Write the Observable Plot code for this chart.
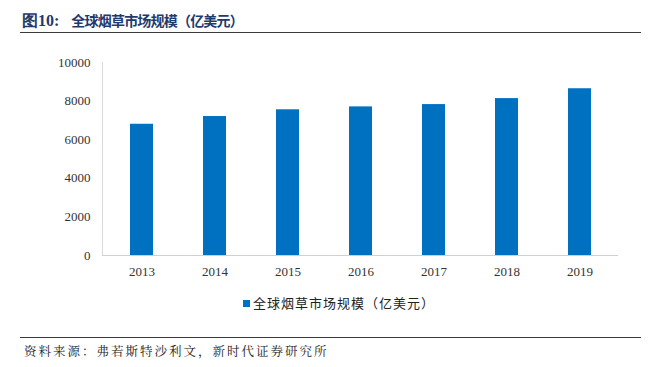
<!DOCTYPE html>
<html>
<head>
<meta charset="utf-8">
<script src="https://cdn.jsdelivr.net/npm/d3@7"></script>
<script src="https://cdn.jsdelivr.net/npm/@observablehq/plot@0.6"></script>
<style>
  html, body { margin: 0; padding: 0; background: #fff; }
  #wrap { position: relative; width: 653px; height: 367px; overflow: hidden; }
  #title { position: absolute; left: 22px; top: 10px; font-family: "Noto Sans CJK SC", sans-serif; font-weight: bold; font-size: 14px; color: #1f3a6e; white-space: nowrap; letter-spacing: -0.8px; }
  #title .num { font-family: "Liberation Serif", serif; font-size: 16px; margin-right: 12px; letter-spacing: 0; }
  #rule1 { position: absolute; left: 20px; top: 32px; width: 621px; height: 0; border-top: 1.5px solid #3a3a3a; }
  #chart { position: absolute; left: 0; top: 0; }
  #legend { position: absolute; left: 243px; top: 293px; font-family: "Noto Sans CJK SC", sans-serif; font-size: 13px; color: #222; white-space: nowrap; letter-spacing: 1px; }
  #legend .sw { display: inline-block; width: 7px; height: 7px; background: #0070c0; margin-right: 3px; vertical-align: 1px; }
  #rule2 { position: absolute; left: 20px; top: 337px; width: 621px; height: 0; border-top: 1px solid #3a3a3a; }
  #source { position: absolute; left: 24px; top: 342px; font-family: "Noto Serif CJK SC", "Noto Sans CJK SC", serif; font-size: 12.5px; color: #222; white-space: nowrap; letter-spacing: 2px; }
</style>
</head>
<body>
<div id="wrap">
  <div id="title"><span class="num">图10:</span>全球烟草市场规模（亿美元）</div>
  <div id="rule1"></div>
  <div id="chart"></div>
  <div id="legend"><span class="sw"></span>全球烟草市场规模（亿美元）</div>
  <div id="rule2"></div>
  <div id="source">资料来源：弗若斯特沙利文，新时代证券研究所</div>
</div>
<script>
const years = ["2013", "2014", "2015", "2016", "2017", "2018", "2019"];
const marketSize = [6800, 7200, 7550, 7700, 7820, 8130, 8640];
const yTicks = [0, 2000, 4000, 6000, 8000, 10000];
const seriesName = "全球烟草市场规模（亿美元）";

const data = years.map((y, i) => ({year: y, value: marketSize[i]}));

const chart = Plot.plot({
  width: 653,
  height: 290,
  marginTop: 62,
  marginBottom: 35,
  marginLeft: 102,
  marginRight: 35,
  style: {fontFamily: "'Liberation Serif', 'Times New Roman', serif", fontSize: "13px", color: "#333", background: "transparent"},
  x: {domain: years, paddingInner: 0.69, paddingOuter: 0.345, label: null},
  y: {domain: [0, 10000], label: null},
  marks: [
    Plot.frame({anchor: "left", stroke: "#d9d9d9"}),
    Plot.barY(data, {x: "year", y: "value", fill: "#0070c0"}),
    Plot.ruleY([0], {stroke: "#d0d0d0", strokeWidth: 1.2}),
    Plot.axisY({ticks: yTicks, tickSize: 0, tickPadding: 12, tickFormat: d => String(d), label: null}),
    Plot.axisX({tickSize: 0, tickPadding: 11, label: null})
  ]
});
document.getElementById("chart").appendChild(chart);
</script>
</body>
</html>
